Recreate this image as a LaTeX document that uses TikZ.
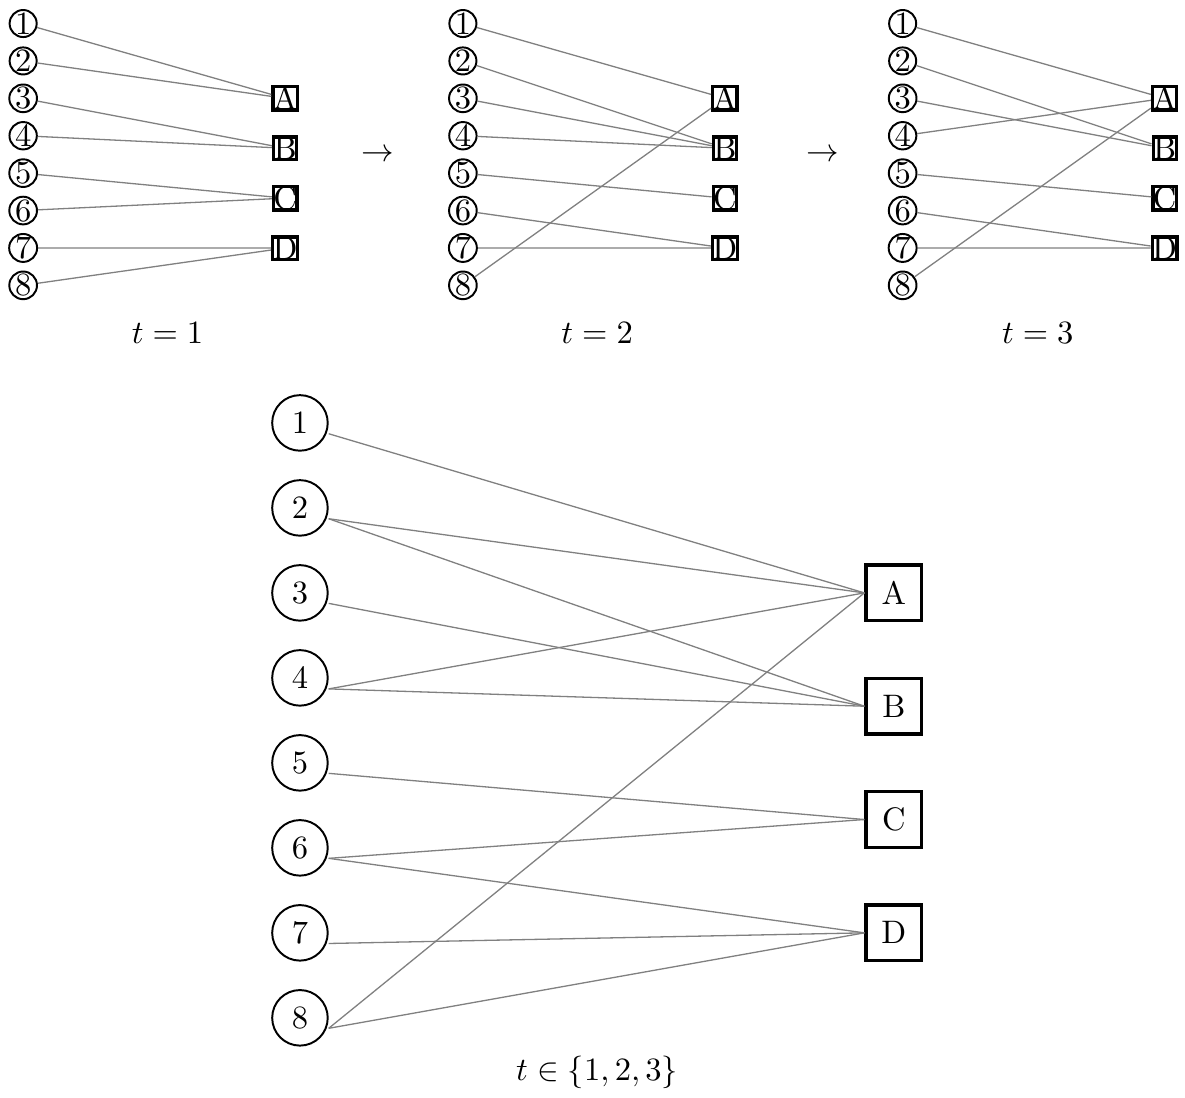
\documentclass[tikz,border=0pt]{standalone}
\usetikzlibrary{positioning}

\tikzset{
	student/.style={circle, draw, semithick, inner sep=0pt},
	tutor/.style={rectangle, draw, line width=1pt, inner sep=0pt},
	bigstudent/.style={student, minimum size=0.6cm},
	bigtutor/.style={tutor, minimum size=0.6cm},
	match/.style={gray, thin}
}

\begin{document}
\begin{tikzpicture}[y=-1cm]
	\useasboundingbox (0,0) rectangle (12.8,11.85);

	% small graphs, one per time step
	\foreach \t/\x in {1/0.25, 2/5.0, 3/9.75} {
		\foreach \i in {1,...,8}
			\node [student] (s\t-\i) at ({\x}, {0.254+0.404*(\i-1)}) {\i};
		\foreach \j [count=\k] in {A,B,C,D}
			\node [tutor] (a\t-\j) at ({\x+2.83}, {1.062+0.539*(\k-1)}) {\j};
	}

	% matchings
	\foreach \i/\j in {1/A,2/A,3/B,4/B,5/C,6/C,7/D,8/D}
		\draw [match] (s1-\i) -- (a1-\j);
	\foreach \i/\j in {1/A,2/B,3/B,4/B,5/C,6/D,7/D,8/A}
		\draw [match] (s2-\i) -- (a2-\j);
	\foreach \i/\j in {1/A,2/B,3/B,4/A,5/C,6/D,7/D,8/A}
		\draw [match] (s3-\i) -- (a3-\j);

	% steps and labels
	\node (step1) at (4.08,1.68) {$\to$};
	\node (step2) at (8.89,1.68) {$\to$};
	\node (lbl1) at (1.81,3.60) {$t=1$};
	\node (lbl2) at (6.45,3.60) {$t=2$};
	\node (lbl3) at (11.21,3.60) {$t=3$};

	% union graph
	\foreach \i in {1,...,8}
		\node [bigstudent] (c\i) at (3.24, {4.568+0.918*(\i-1)}) {\i};
	\foreach \j [count=\k] in {A,B,C,D}
		\node [bigtutor] (\j) at (9.654, {6.404+1.224*(\k-1)}) {\j};
	\foreach \i/\j in {1/A,2/A,2/B,3/B,4/A,4/B,5/C,6/C,6/D,7/D,8/A,8/D}
		\draw [match] (c\i.base east) -- (\j.west);

	\node (lblall) at (6.45,11.58) {$t\in\{1,2,3\}$};
\end{tikzpicture}
\end{document}
